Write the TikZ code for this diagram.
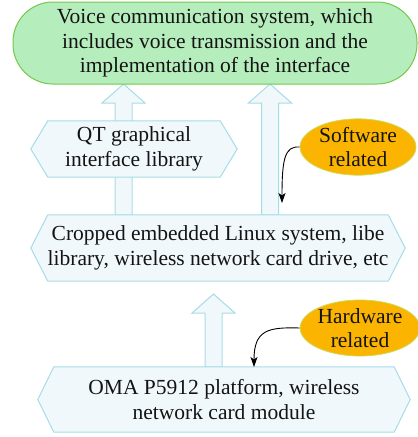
\documentclass[tikz,border=0pt]{standalone}
\usepackage{fontspec}
\setmainfont{Liberation Serif}
\usetikzlibrary{calc,arrows.meta,shapes.geometric}
\pgfdeclarelayer{background}
\pgfsetlayers{background,main}

\definecolor{topfill}{HTML}{B6EDBC}
\definecolor{topline}{HTML}{74C84C}
\definecolor{boxfill}{HTML}{F1F8FB}
\definecolor{boxline}{HTML}{A6DCE9}
\definecolor{tagfill}{HTML}{FBB400}
\definecolor{tagline}{HTML}{CBDD5A}

\tikzset{
  txt/.style={font=\fontsize{21.5}{24.5}\selectfont, align=center, text=black!92, inner sep=0pt},
  topbox/.style={txt, draw=topline, fill=topfill, line width=1pt, rounded corners=40pt},
  hexbox/.style={txt},
  hexpath/.style={draw=boxline, fill=boxfill, line width=1pt, line join=miter},
  tag/.style={txt, ellipse, draw=tagline, fill=tagfill, line width=0.8pt},
  blockarrow/.style={draw=boxline, fill=boxfill, line width=1pt, line join=miter},
  note/.style={black, line width=0.9pt, -{Stealth[length=10pt,width=7pt,inset=2.5pt]}}
}

% hexagonal box behind a node: #1 node name, #2 point depth
\newcommand\hexagonbox[2]{%
  \path[hexpath] ($(#1.north west)+(#2,0)$) -- ($(#1.north east)+(-#2,0)$) -- (#1.east)
    -- ($(#1.south east)+(-#2,0)$) -- ($(#1.south west)+(#2,0)$) -- (#1.west) -- cycle;}

% upward block arrow: #1 x position, #2 bottom y, #3 tip y
\newcommand\upblock[3]{%
  \path[blockarrow] (#1-8.5,#2) -- (#1-8.5,#3+19) -- (#1-21.5,#3+19) -- (#1,#3)
    -- (#1+21.5,#3+19) -- (#1+8.5,#3+19) -- (#1+8.5,#2) -- cycle;}

\begin{document}
\begin{tikzpicture}[x=1pt,y=-1pt]
\useasboundingbox (0,0) rectangle (418,437);

\node[topbox, minimum width=404pt, minimum height=82pt] (top) at (215,43)
  {Voice communication system, which\\ includes voice transmission and the\\ implementation of the interface};
\node[hexbox, minimum width=206pt, minimum height=56pt] (qt) at (134,149)
  {QT graphical\\ interface library};
\node[hexbox, minimum width=374pt, minimum height=66pt] (linux) at (218,248)
  {Cropped embedded Linux system, libe\\ library, wireless network card drive, etc};
\node[hexbox, minimum width=372pt, minimum height=65pt] (oma) at (224,399.5)
  {OMA P5912 platform, wireless\\ network card module};
\node[tag, minimum width=116pt, minimum height=54pt, inner sep=0pt] (sw) at (358,147)
  {Software\\ related};
\node[tag, minimum width=112pt, minimum height=54pt, inner sep=0pt] (hw) at (360,328)
  {Hardware\\ related};

\coordinate (swend) at (282,203);
\coordinate (hwend) at (254,367);

\begin{pgfonlayer}{background}
  \upblock{123.5}{215}{84}
  \upblock{270}{215}{84}
  \upblock{213.5}{367}{294}
  \hexagonbox{qt}{17pt}
  \hexagonbox{linux}{17pt}
  \hexagonbox{oma}{16pt}
\end{pgfonlayer}

\draw[note] (sw.west) .. controls (285,146) and (282,158) .. (swend);
\draw[note] (hw.west) .. controls (268,327) and (254,330) .. (hwend);
\end{tikzpicture}
\end{document}
